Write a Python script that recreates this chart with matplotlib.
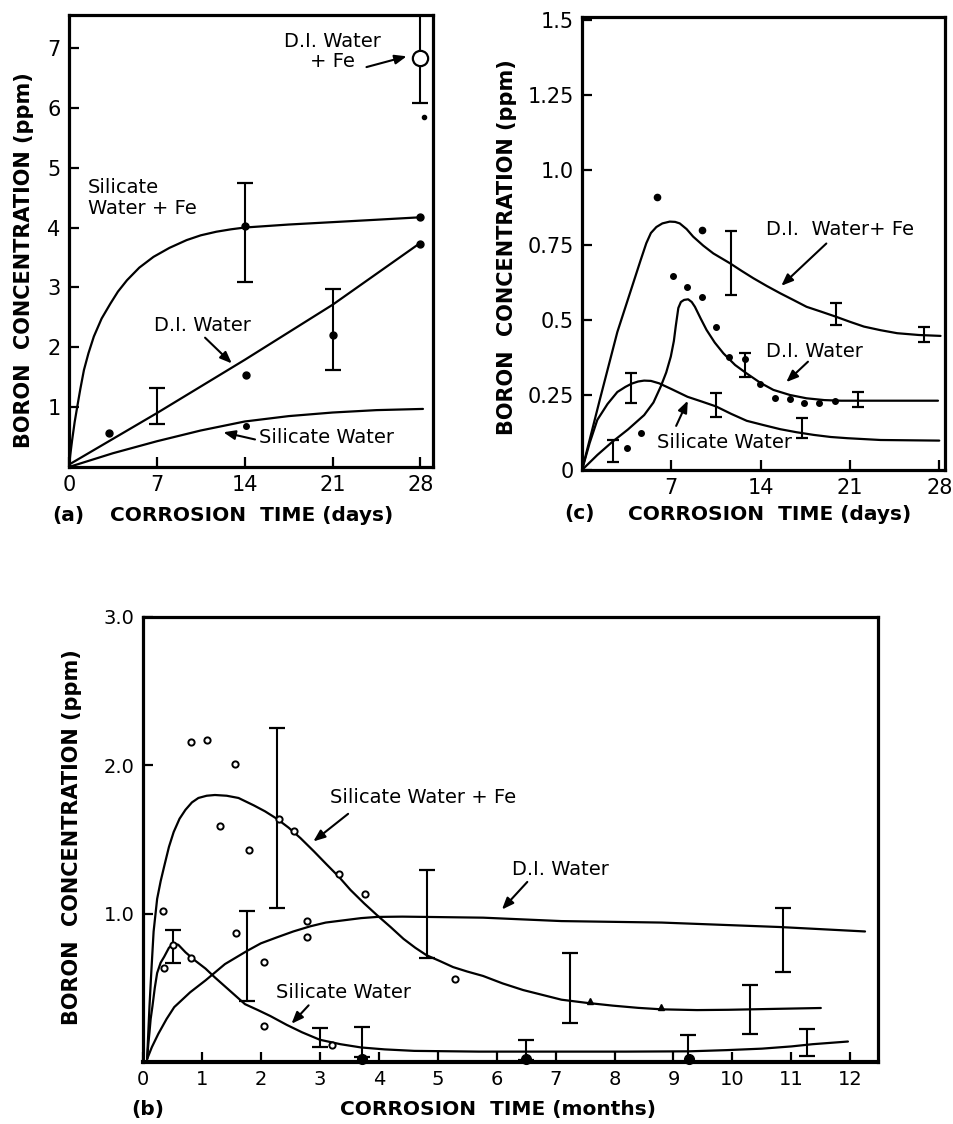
import matplotlib
matplotlib.use("Agg")
import matplotlib.pyplot as plt

plt.rcParams["font.family"] = ["DejaVu Sans"]

W, H = 954, 1124

# ---------------- panel (a): corrosion time in days ----------------
a_xticks = [0, 7, 14, 21, 28]
a_yticks = [1, 2, 3, 4, 5, 6, 7]

a_sife_x = [0, 0.1, 0.25, 0.45, 0.66, 0.9, 1.19, 1.55, 1.98, 2.6, 3.3, 3.9, 4.62, 5.6, 6.73, 8.0, 9.37,
            10.5, 11.74, 12.9, 14.0, 17.5, 21.0, 24.5, 27.9]
a_sife_y = [0, 0.2, 0.45, 0.75, 1.01, 1.3, 1.62, 1.9, 2.18, 2.48, 2.73, 2.93, 3.12, 3.33, 3.51, 3.66, 3.79,
            3.87, 3.93, 3.97, 4.0, 4.05, 4.09, 4.13, 4.17]
a_di_x = [0, 7, 14, 21, 27.9]
a_di_y = [0.04, 0.9, 1.79, 2.71, 3.73]
a_si_x = [0, 3.5, 7, 10.5, 14, 17.5, 21, 24.5, 28.2]
a_si_y = [0, 0.23, 0.43, 0.61, 0.76, 0.85, 0.91, 0.95, 0.97]

a_sife_pts_x = [14, 28]
a_sife_pts_y = [4.02, 4.18]
a_sife_err_x = [14]
a_sife_err_lo = [3.09]
a_sife_err_hi = [4.74]

a_di_pts_x = [3.2, 14.1, 21, 28]
a_di_pts_y = [0.57, 1.54, 2.2, 3.73]
a_di_err_x = [7, 21]
a_di_err_lo = [0.71, 1.62]
a_di_err_hi = [1.32, 2.97]

a_si_pts_x = [14.1]
a_si_pts_y = [0.69]

a_dife_x = [28]
a_dife_y = [6.83]
a_dife_err_lo = [6.08]
a_dife_err_hi = [7.7]
a_dife_dot_x = [28.3]
a_dife_dot_y = [5.84]

# ---------------- panel (c): corrosion time in days ----------------
c_xticks = [7, 14, 21, 28]
c_yticks = [0, 0.25, 0.5, 0.75, 1.0, 1.25, 1.5]
c_yticklabels = ["0", "0.25", "0.5", "0.75", "1.0", "1.25", "1.5"]

c_dife_x = [0, 1.4, 2.77, 3.99, 4.6, 5.04, 5.4, 5.83, 6.3, 6.88, 7.3, 7.66, 8.2, 8.71, 9.5, 10.29, 11.6,
            12.5, 13.44, 14.5, 15.54, 16.6, 17.6, 18.8, 19.9, 21.0, 22.1, 23.4, 24.7, 26.4, 28.1]
c_dife_y = [0, 0.235, 0.46, 0.62, 0.70, 0.756, 0.79, 0.81, 0.822, 0.828, 0.827, 0.822, 0.803, 0.778, 0.748,
            0.722, 0.689, 0.664, 0.639, 0.613, 0.589, 0.566, 0.544, 0.527, 0.511, 0.494, 0.478, 0.466, 0.456,
            0.45, 0.447]
c_di_x = [0, 1.2, 2.38, 3.6, 4.87, 5.6, 6.17, 6.6, 6.96, 7.2, 7.35, 7.55, 7.75, 8.0, 8.32, 8.6, 8.85, 9.3,
          9.76, 10.4, 11.08, 12.0, 12.9, 14.0, 15.0, 16.3, 17.6, 19.0, 20.3, 23.4, 27.9]
c_di_y = [0, 0.05, 0.094, 0.135, 0.183, 0.225, 0.278, 0.325, 0.378, 0.43, 0.48, 0.54, 0.56, 0.567, 0.569,
          0.56, 0.544, 0.505, 0.467, 0.425, 0.389, 0.35, 0.322, 0.29, 0.267, 0.25, 0.239, 0.233, 0.231,
          0.231, 0.231]
c_si_x = [0, 0.6, 1.2, 2.0, 2.77, 3.4, 3.9, 4.4, 4.87, 5.4, 6.04, 7.0, 8.27, 9.4, 10.5, 11.7, 12.91, 14.2,
          15.54, 16.8, 18.16, 19.5, 20.8, 23.4, 28.0]
c_si_y = [0, 0.09, 0.167, 0.22, 0.26, 0.277, 0.288, 0.295, 0.298, 0.297, 0.289, 0.27, 0.244, 0.228, 0.212,
          0.187, 0.164, 0.15, 0.136, 0.126, 0.117, 0.11, 0.106, 0.1, 0.098]

c_dife_pts_x = [5.88, 9.42]
c_dife_pts_y = [0.911, 0.80]
c_dife_err_x = [11.65, 19.87, 26.8]
c_dife_err_lo = [0.583, 0.483, 0.428]
c_dife_err_hi = [0.797, 0.556, 0.478]

c_di_pts_x = [3.5, 4.6, 7.14, 8.24, 9.37, 10.47, 11.55, 12.8, 13.96, 15.09, 16.27, 17.43, 18.6, 19.8]
c_di_pts_y = [0.072, 0.124, 0.648, 0.609, 0.576, 0.478, 0.378, 0.37, 0.286, 0.241, 0.236, 0.224, 0.224, 0.231]
c_di_err_x = [2.46, 12.78, 21.65]
c_di_err_lo = [0.028, 0.311, 0.211]
c_di_err_hi = [0.10, 0.391, 0.261]

c_si_err_x = [3.86, 10.5, 17.24]
c_si_err_lo = [0.222, 0.178, 0.106]
c_si_err_hi = [0.322, 0.256, 0.172]

# ---------------- panel (b): corrosion time in months ----------------
b_xticks = list(range(0, 13))
b_yticks = [1.0, 2.0, 3.0]
b_yticklabels = ["1.0", "2.0", "3.0"]

b_sife_x = [0.07, 0.09, 0.11, 0.14, 0.18, 0.24, 0.3, 0.36, 0.44, 0.52, 0.62, 0.72, 0.83, 0.94, 1.08, 1.22,
            1.42, 1.62, 1.88, 2.07, 2.27, 2.47, 2.67, 2.9, 3.12, 3.32, 3.52, 3.75, 3.97, 4.2, 4.42, 4.62,
            4.81, 5.04, 5.26, 5.5, 5.77, 6.1, 6.45, 6.8, 7.1, 7.5, 7.97, 8.4, 8.8, 9.4, 9.93, 10.7, 11.5]
b_sife_y = [0.02, 0.2, 0.375, 0.6, 0.88, 1.10, 1.22, 1.32, 1.45, 1.55, 1.64, 1.70, 1.75, 1.78, 1.795, 1.80,
            1.795, 1.78, 1.73, 1.69, 1.64, 1.58, 1.51, 1.42, 1.33, 1.25, 1.16, 1.07, 0.99, 0.91, 0.83, 0.77,
            0.72, 0.68, 0.64, 0.61, 0.58, 0.53, 0.485, 0.45, 0.42, 0.40, 0.38, 0.365, 0.355, 0.35, 0.352,
            0.358, 0.364]
b_di_x = [0.07, 0.15, 0.26, 0.4, 0.53, 0.8, 1.06, 1.39, 1.77, 2.0, 2.27, 2.55, 2.84, 3.1, 3.4, 3.7, 3.97,
          4.4, 4.81, 5.77, 7.1, 8.8, 10.8, 12.25]
b_di_y = [0.02, 0.1, 0.19, 0.29, 0.37, 0.47, 0.55, 0.66, 0.75, 0.80, 0.84, 0.88, 0.915, 0.94, 0.955, 0.97,
          0.978, 0.98, 0.978, 0.973, 0.95, 0.94, 0.91, 0.88]
b_si_x = [0.07, 0.09, 0.11, 0.13, 0.16, 0.2, 0.24, 0.3, 0.36, 0.44, 0.52, 0.6, 0.72, 0.88, 1.06, 1.22, 1.39,
          1.56, 1.73, 1.95, 2.16, 2.44, 2.7, 3.0, 3.35, 3.7, 4.1, 4.6, 5.7, 7.1, 8.2, 9.27, 9.9, 10.5, 11.0,
          11.36, 11.96]
b_si_y = [0.02, 0.12, 0.2, 0.29, 0.375, 0.5, 0.6, 0.67, 0.71, 0.77, 0.8, 0.79, 0.74, 0.685, 0.63, 0.57, 0.51,
          0.45, 0.39, 0.35, 0.31, 0.25, 0.2, 0.15, 0.12, 0.098, 0.085, 0.075, 0.07, 0.07, 0.07, 0.072, 0.08,
          0.09, 0.105, 0.12, 0.138]

b_sife_pts_x = [0.34, 0.81, 1.09, 1.56, 1.31, 1.79, 2.30, 2.57, 3.33, 3.77, 5.3]
b_sife_pts_y = [1.02, 2.16, 2.17, 2.01, 1.59, 1.43, 1.64, 1.56, 1.27, 1.13, 0.56]
b_sife_tri_x = [7.58, 8.78]
b_sife_tri_y = [0.41, 0.37]
b_sife_err_x = [2.27, 7.24, 10.3]
b_sife_err_lo = [1.04, 0.26, 0.19]
b_sife_err_hi = [2.25, 0.737, 0.52]

b_di_pts_x = [1.57, 2.05, 2.78, 2.78]
b_di_pts_y = [0.87, 0.676, 0.95, 0.84]
b_di_err_x = [1.77, 4.81, 10.85]
b_di_err_lo = [0.41, 0.70, 0.61]
b_di_err_hi = [1.02, 1.295, 1.04]

b_si_pts_x = [0.36, 0.51, 0.82, 2.05, 3.2]
b_si_pts_y = [0.636, 0.79, 0.70, 0.24, 0.115]
b_si_err_x = [0.51, 3.0, 3.71, 6.5, 9.24, 11.27]
b_si_err_lo = [0.67, 0.10, 0.036, 0.014, 0.0, 0.04]
b_si_err_hi = [0.89, 0.229, 0.235, 0.145, 0.18, 0.22]
b_si_base_x = [3.72, 6.5, 9.27]
b_si_base_y = [0.02, 0.02, 0.02]


def px_box(left, top, right, bottom):
    return [left / W, 1 - bottom / H, (right - left) / W, (bottom - top) / H]


def style(ax, labelsize):
    for s in ax.spines.values():
        s.set_linewidth(2.3)
    ax.tick_params(direction="in", length=7, width=1.6, labelsize=labelsize, pad=6)


def curve(ax, x, y):
    ax.plot(x, y, color="black", lw=1.6, solid_capstyle="round", solid_joinstyle="round")


def err(ax, x, lo, hi, capsize=5.5):
    mid = [(l + h) / 2 for l, h in zip(lo, hi)]
    yerr = [[m - l for m, l in zip(mid, lo)], [h - m for h, m in zip(hi, mid)]]
    ax.errorbar(x, mid, yerr=yerr, fmt="none", ecolor="black", elinewidth=1.5,
                capsize=capsize, capthick=1.6)


def dots(ax, x, y, ms=4.5):
    ax.plot(x, y, "o", color="black", ms=ms, ls="none")


def arrow(ax, tail, tip):
    ax.annotate("", xy=tip, xytext=tail,
                arrowprops=dict(arrowstyle="-|>,head_length=0.7,head_width=0.28",
                                lw=1.5, color="black", shrinkA=0, shrinkB=0))


def ftext(px, py, s, **kw):
    fig.text(px / W, 1 - py / H, s, **kw)


fig = plt.figure(figsize=(W / 100, H / 100), dpi=100)
TXT = dict(fontsize=14, color="black")
YLAB = dict(fontsize=15, fontweight="bold", color="black")
XLAB = dict(fontsize=14.5, fontweight="bold", color="black")

# ---- (a)
ax = fig.add_axes(px_box(69, 15, 433, 467))
style(ax, 15)
curve(ax, a_sife_x, a_sife_y)
curve(ax, a_di_x, a_di_y)
curve(ax, a_si_x, a_si_y)
err(ax, a_sife_err_x, a_sife_err_lo, a_sife_err_hi, 6)
err(ax, a_di_err_x, a_di_err_lo, a_di_err_hi, 6)
err(ax, a_dife_x, a_dife_err_lo, a_dife_err_hi, 6)
dots(ax, a_sife_pts_x, a_sife_pts_y, 5)
dots(ax, a_di_pts_x, a_di_pts_y, 5)
dots(ax, a_si_pts_x, a_si_pts_y, 4)
dots(ax, a_dife_dot_x, a_dife_dot_y, 3)
ax.plot(a_dife_x, a_dife_y, "o", ms=11, mfc="white", mec="black", mew=1.6, zorder=5)
ax.set_xlim(0, 29)
ax.set_ylim(0, 7.55)
ax.set_xticks(a_xticks)
ax.set_yticks(a_yticks)
ax.text(21.0, 6.94, "D.I. Water\n+ Fe", ha="center", va="center", linespacing=1.1, **TXT)
arrow(ax, (23.7, 6.68), (26.9, 6.86))
ax.text(1.5, 4.49, "Silicate\nWater + Fe", ha="left", va="center", linespacing=1.1, **TXT)
ax.text(10.65, 2.36, "D.I. Water", ha="center", va="center", **TXT)
arrow(ax, (10.84, 2.16), (12.97, 1.73))
ax.text(20.5, 0.49, "Silicate Water", ha="center", va="center", **TXT)
arrow(ax, (14.82, 0.46), (12.3, 0.58))
ftext(24, 260, "BORON  CONCENTRATION (ppm)", rotation=90, ha="center", va="center", **YLAB)
ftext(68, 515, "(a)", ha="center", va="center", **XLAB)
ftext(252, 515, "CORROSION  TIME (days)", ha="center", va="center", **XLAB)

# ---- (c)
ax = fig.add_axes(px_box(582, 17, 945, 470))
style(ax, 15)
curve(ax, c_dife_x, c_dife_y)
curve(ax, c_di_x, c_di_y)
curve(ax, c_si_x, c_si_y)
err(ax, c_dife_err_x, c_dife_err_lo, c_dife_err_hi, 4.5)
err(ax, c_di_err_x, c_di_err_lo, c_di_err_hi, 4.5)
err(ax, c_si_err_x, c_si_err_lo, c_si_err_hi, 4.5)
dots(ax, c_dife_pts_x, c_dife_pts_y, 4.5)
dots(ax, c_di_pts_x, c_di_pts_y, 4)
ax.set_xlim(0, 28.45)
ax.set_ylim(0, 1.51)
ax.set_xticks(c_xticks)
ax.set_yticks(c_yticks)
ax.set_yticklabels(c_yticklabels)
ax.text(20.2, 0.80, "D.I.  Water+ Fe", ha="center", va="center", **TXT)
arrow(ax, (19.15, 0.755), (15.62, 0.614))
ax.text(18.2, 0.395, "D.I. Water", ha="center", va="center", **TXT)
arrow(ax, (17.71, 0.361), (16.01, 0.293))
ax.text(11.2, 0.09, "Silicate Water", ha="center", va="center", **TXT)
arrow(ax, (7.38, 0.147), (8.29, 0.231))
ftext(507, 247, "BORON  CONCENTRATION (ppm)", rotation=90, ha="center", va="center", **YLAB)
ftext(580, 514, "(c)", ha="center", va="center", **XLAB)
ftext(770, 514, "CORROSION  TIME (days)", ha="center", va="center", **XLAB)

# ---- (b)
ax = fig.add_axes(px_box(143, 617, 878, 1062))
style(ax, 14)
ax.spines["bottom"].set_linewidth(3)
curve(ax, b_sife_x, b_sife_y)
curve(ax, b_di_x, b_di_y)
curve(ax, b_si_x, b_si_y)
err(ax, b_sife_err_x, b_sife_err_lo, b_sife_err_hi, 6)
err(ax, b_di_err_x, b_di_err_lo, b_di_err_hi, 6)
err(ax, b_si_err_x, b_si_err_lo, b_si_err_hi, 6)
for px_, py_ in [(b_sife_pts_x, b_sife_pts_y), (b_di_pts_x, b_di_pts_y), (b_si_pts_x, b_si_pts_y)]:
    ax.plot(px_, py_, "o", ms=4.5, mfc="white", mec="black", mew=1.4, ls="none")
ax.plot(b_sife_tri_x, b_sife_tri_y, "^", color="black", ms=4.5, ls="none")
ax.plot(b_si_base_x, b_si_base_y, "o", color="black", ms=7, ls="none", clip_on=False)
ax.set_xlim(0, 12.47)
ax.set_ylim(0, 3.0)
ax.set_xticks(b_xticks)
ax.set_yticks(b_yticks)
ax.set_yticklabels(b_yticklabels)
ax.text(4.75, 1.785, "Silicate Water + Fe", ha="center", va="center", **TXT)
arrow(ax, (3.48, 1.673), (2.89, 1.487))
ax.text(7.09, 1.30, "D.I. Water", ha="center", va="center", **TXT)
arrow(ax, (6.52, 1.214), (6.09, 1.028))
ax.text(3.40, 0.469, "Silicate Water", ha="center", va="center", **TXT)
arrow(ax, (2.81, 0.382), (2.52, 0.258))
ftext(72, 837, "BORON  CONCENTRATION (ppm)", rotation=90, ha="center", va="center", **YLAB)
ftext(148, 1110, "(b)", ha="center", va="center", **XLAB)
ftext(498, 1110, "CORROSION  TIME (months)", ha="center", va="center", **XLAB)

fig.savefig("out.png", dpi=100)
